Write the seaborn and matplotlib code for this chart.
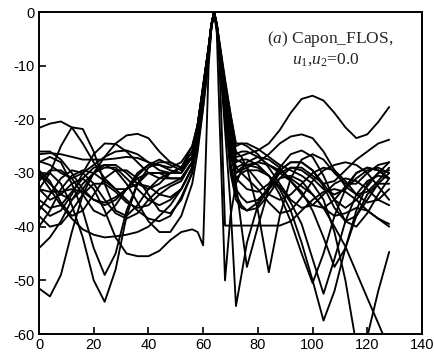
import matplotlib
matplotlib.use("Agg")
import matplotlib.pyplot as plt
import seaborn as sns
import pandas as pd

# shared x grid (array element index)
x_grid = [0, 4, 8, 12, 16, 20, 24, 28, 32, 36, 40, 44, 48, 52, 56,
          58, 60, 62, 63, 64, 65, 66, 68, 70,
          72, 74, 76, 80, 84, 88, 92, 96, 100, 104, 108, 112, 116, 120, 124, 128]

# beam pattern curves (dB)
c01 = [-21.6, -20.8, -20.4, -21.5, -24.5, -28, -31, -33, -33, -31, -30, -30, -30, -29, -25,
       -21, -14, -6.5, -2.5, 0, -2.5, -7, -16, -24,
       -27, -26.8, -26.4, -25.8, -24.5, -22, -18.8, -16.2, -15.6, -16.5, -18.8, -21.5, -23.5, -22.8, -20.5, -17.7]
c02 = [-33, -30, -25, -21.5, -21.8, -26, -32, -37, -38, -36, -33, -31, -31, -31, -28,
       -24, -16, -8, -3, 0, -3, -8.5, -22, -36,
       -54.8, -49, -43, -36, -33, -30, -29, -29.5, -31, -33, -34, -33, -31, -29.5, -29, -30]
c03 = [-30, -32, -34, -35, -33, -30, -27, -24.5, -23, -22.7, -23.5, -26, -28, -29, -27,
       -23, -14, -7, -2.5, 0, -4, -20, -50, -38,
       -32, -29.5, -28, -27, -27.5, -29, -31.5, -34, -36, -36.5, -35, -32.5, -30, -29, -29.5, -31]
c04 = [-36, -38, -37, -34, -30, -26.5, -24.5, -24.6, -26, -28, -30, -31, -30, -29, -26,
       -22, -15, -7, -2.5, 0, -2.5, -7.5, -16, -24,
       -32, -40, -47.5, -40, -33, -29.5, -28, -28, -29.5, -32, -35, -36.5, -35, -32.5, -30, -28]
c05 = [-51.5, -53, -49, -41, -34, -30, -28.5, -28.5, -30, -32, -33, -32, -30, -30, -27,
       -21, -14, -6.5, -2.3, 0, -2.5, -6.5, -14, -21,
       -26, -27, -29, -37, -48.5, -38, -31, -27.5, -26.5, -27.5, -30, -32, -32, -30, -28.5, -28]
c06 = [-31, -30, -32, -36, -42, -50, -54, -48, -38, -32, -29, -28, -28, -29, -27,
       -22, -15, -7, -2.5, 0, -2.5, -7.5, -17, -25,
       -29, -28.5, -28.5, -29, -30.5, -33, -37, -43, -50, -57.5, -52, -44, -37, -32, -30, -29.5]
c07 = [-28, -27, -28, -32, -37, -44, -49, -45, -37, -32, -30, -30, -31, -31, -28,
       -23, -16, -7.5, -2.6, 0, -2.6, -7.5, -18, -26,
       -31, -30, -29.5, -29.5, -30.5, -32.5, -35.5, -39.5, -46, -52.5, -46, -39, -34, -31.5, -30.5, -31]
c08 = [-44, -42, -39, -35, -32, -30, -29, -29, -31, -33, -35, -36, -35, -33, -29,
       -21, -14, -6.5, -2.3, 0, -2.3, -6, -13, -19,
       -25, -24.5, -24.5, -25.5, -27, -28.5, -29.5, -30.5, -32, -35, -41, -50, -62, -60.5, -52, -44.7]
c09 = [-30, -33, -36, -38.5, -40.5, -41.5, -42, -41.8, -41.5, -41, -40, -38, -36, -33, -29,
       -25, -17.5, -8.5, -3, 0, -2.8, -8, -19, -27,
       -30, -29, -28.5, -28, -28.5, -29.5, -31, -32.5, -34, -36.5, -40, -43.7, -48.5, -53.3, -58, -62.8]
c10 = [-33, -35, -34, -32, -31, -33, -37, -42, -45, -45.5, -45.5, -44.5, -42.5, -41, -40.5,
       -41, -43.5, -10, -3, 0, -3, -10, -39.8, -39.8,
       -39.8, -39.8, -39.8, -39.8, -39.8, -39.8, -39, -37, -35, -33.5, -33, -33.5, -35, -37, -38.5, -39.5]
c11 = [-26.5, -26.3, -26.5, -27, -27.5, -27.5, -27.5, -27.3, -27, -27.2, -28, -28.5, -29, -28, -25,
       -21, -13.5, -6.5, -2.3, 0, -3, -8.5, -20, -28,
       -33, -34.5, -35.5, -35, -33, -31, -30.5, -31.5, -34, -36.5, -38, -37.5, -36.5, -37, -38.5, -40]
c12 = [-27.8, -28.5, -30, -31, -30, -28.5, -27, -26, -25.8, -26.5, -28, -29.5, -30, -29, -26,
       -21, -14, -6.5, -2.3, 0, -2.4, -6.5, -15, -22,
       -28, -27.5, -27.5, -28.5, -30.5, -34, -39, -45, -50.5, -45, -38, -33, -30, -29, -29.5, -31]
c13 = [-33, -33.5, -33.5, -33, -33.5, -35, -35.5, -34.5, -33, -32, -32.5, -34, -34.5, -33, -29,
       -22, -15, -7, -2.5, 0, -2.5, -7, -16, -24,
       -30, -29.5, -29, -28, -26.5, -24.5, -23.2, -22.8, -23.5, -26, -29.5, -32.5, -34, -33.5, -31.5, -29]
c14 = [-37, -34, -31, -29.5, -30, -32, -35, -37.5, -38.5, -37.5, -35, -33, -32, -31, -28,
       -23, -16, -7.5, -2.6, 0, -2.5, -7.5, -19, -29,
       -34, -36, -37, -36.5, -34, -31, -29, -29, -30.5, -32, -31.5, -29.5, -27.5, -26, -24.5, -23.8]
c15 = [-29.5, -31.5, -35.5, -38, -37, -34, -31, -29.5, -29.5, -31, -34, -37, -37.5, -35, -30,
       -24, -16.5, -8, -2.8, 0, -2.7, -8, -18, -25,
       -31, -32, -33, -33.5, -32, -29, -26.5, -25.8, -27, -30.5, -35, -39, -40, -37.5, -34, -31]
c16 = [-40, -37, -33, -30.5, -29.5, -30, -31.5, -33, -35, -37, -38.5, -39, -38, -34.5, -30,
       -22, -14.5, -7, -2.4, 0, -2.3, -6, -13.5, -20,
       -26.5, -26, -26, -27, -28.5, -30, -31.5, -33.5, -37, -42, -47.5, -44, -38, -34, -32, -32]
c17 = [-35, -36.5, -36, -33.5, -31, -29, -28.5, -29.5, -32, -35.5, -39, -41, -41, -38, -32,
       -26, -18, -9, -3, 0, -2.8, -8, -18, -24,
       -29, -30, -31, -33, -35.5, -37.5, -37, -34.5, -31.5, -29.5, -28.5, -28, -28.5, -30, -32.5, -35]
c18 = [-31.5, -29.5, -29.5, -31, -34, -37, -38, -36, -33, -30, -28.5, -28.5, -29.5, -30, -27,
       -22, -15, -7, -2.5, 0, -2.4, -6.5, -15, -22,
       -27.5, -28, -29, -31.5, -34, -35, -34, -32, -30, -29, -29.5, -31.5, -34, -35.5, -35, -33]
c19 = [-26, -26, -27.5, -30, -33, -35, -36, -35, -33, -30.5, -28.5, -27.5, -28.5, -29.5, -27,
       -21, -14, -6.8, -2.4, 0, -2.6, -7.5, -19, -30,
       -35, -36.5, -37, -35.5, -32.5, -29.5, -28, -28, -29.5, -32.5, -36.5, -39, -38, -35, -32, -30]
c20 = [-38, -40, -39.5, -37, -34, -32, -32, -33.5, -35.5, -36.5, -36, -34, -32.5, -31.5, -28,
       -23, -16, -7.5, -2.6, 0, -2.2, -5.7, -12.5, -19,
       -24.5, -24.5, -25, -26.5, -29, -32, -35, -36.5, -36, -34, -32, -31, -31.5, -33, -35, -36]

curves = [c01, c02, c03, c04, c05, c06, c07, c08, c09, c10,
          c11, c12, c13, c14, c15, c16, c17, c18, c19, c20]

x_ticks = [0, 20, 40, 60, 80, 100, 120, 140]
y_ticks = [0, -10, -20, -30, -40, -50, -60]

frames = [pd.DataFrame({"x": x_grid, "y": ys, "curve": i}) for i, ys in enumerate(curves)]
df = pd.concat(frames, ignore_index=True)

sns.set_style("ticks")
plt.rcParams["font.family"] = ["Liberation Sans", "DejaVu Sans"]
plt.rcParams["mathtext.fontset"] = "custom"
plt.rcParams["mathtext.rm"] = "Liberation Serif"
plt.rcParams["mathtext.it"] = "Liberation Serif:italic"

W, H = 434, 353
fig = plt.figure(figsize=(W / 100, H / 100), dpi=100)
ax = fig.add_axes([39 / W, 19 / H, 383 / W, 322 / H])

sns.lineplot(data=df, x="x", y="y", units="curve", estimator=None, sort=False,
             color="black", linewidth=1.35, ax=ax, legend=False)

ax.set_xlim(0, 140)
ax.set_ylim(-60, 0)
ax.set_xticks(x_ticks)
ax.set_yticks(y_ticks)
ax.set_xticklabels([str(t) for t in x_ticks])
ax.set_yticklabels([str(t) for t in y_ticks])
ax.set_xlabel("")
ax.set_ylabel("")
ax.tick_params(direction="in", length=5, width=1.2, labelsize=10.5, colors="black",
               top=False, right=False, pad=3)
for s in ax.spines.values():
    s.set_linewidth(1.4)
    s.set_color("black")

fig.text(330 / W, 1 - 39 / H, r"($\mathit{a}$) Capon_FLOS,", ha="center", va="center",
         fontsize=12.5, family="Liberation Serif")
fig.text(326 / W, 1 - 60 / H, r"$\mathit{u}_1$,$\mathit{u}_2$=0.0", ha="center", va="center",
         fontsize=12.5, family="Liberation Serif")

fig.savefig("out.png", dpi=100)
